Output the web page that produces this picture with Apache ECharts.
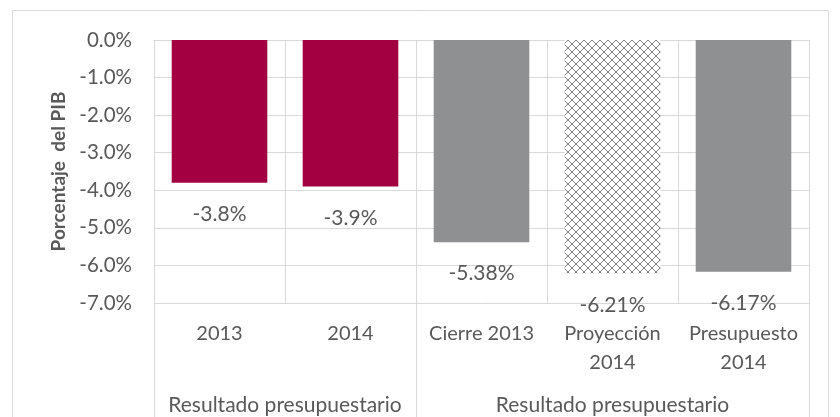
<!DOCTYPE html>
<html>
<head>
<meta charset="utf-8">
<script src="https://cdn.jsdelivr.net/npm/echarts@6/dist/echarts.min.js"></script>
<style>
html,body{margin:0;padding:0;background:#fff;}
#main{width:840px;height:417px;}
</style>
</head>
<body>
<div id="main"></div>
<script>
const categories = ['2013', '2014', 'Cierre 2013', 'Proyección\n2014', 'Presupuesto\n2014'];
const values = [-3.8, -3.9, -5.38, -6.21, -6.17];
const valueLabels = ['-3.8%', '-3.9%', '-5.38%', '-6.21%', '-6.17%'];
const groupNames = ['Resultado presupuestario', 'Resultado presupuestario'];
const groupCenters = [1, 3.5];
const groupBounds = [0, 2, 5];
const yTicks = [0, -1, -2, -3, -4, -5, -6, -7];

function hatch() {
  const c = document.createElement('canvas');
  c.width = 8; c.height = 8;
  const g = c.getContext('2d');
  g.fillStyle = '#ffffff';
  g.fillRect(0, 0, 8, 8);
  g.strokeStyle = '#707070';
  g.lineWidth = 0.9;
  g.beginPath();
  g.moveTo(-1, -1); g.lineTo(9, 9);
  g.moveTo(9, -1); g.lineTo(-1, 9);
  g.stroke();
  return c;
}
const hatchImg = hatch();

const colors = ['#A30041', '#A30041', '#8E9091', {image: hatchImg, repeat: 'repeat'}, '#8E9091'];
const FONT = 'Lato';
const TXT = '#595959';
const GRID = '#d9d9d9';

const chart = echarts.init(document.getElementById('main'));
chart.setOption({
  animation: false,
  graphic: [{
    type: 'rect',
    shape: {x: 12.5, y: 10.5, width: 816, height: 420},
    style: {fill: 'none', stroke: GRID, lineWidth: 1},
    silent: true, z: -1
  }],
  grid: {left: 154, top: 40, right: 31, bottom: 114, containLabel: false},
  xAxis: [{
    type: 'category',
    data: categories,
    position: 'bottom',
    axisLine: {show: true, lineStyle: {color: GRID, width: 1}},
    axisTick: {show: false},
    splitLine: {show: true, lineStyle: {color: GRID, width: 1}},
    axisLabel: {color: TXT, fontFamily: FONT, fontSize: 20, margin: 16, lineHeight: 29, interval: 0}
  }, {
    type: 'value',
    min: 0, max: 5,
    position: 'bottom',
    axisLine: {show: false},
    splitLine: {show: false},
    axisTick: {show: true, customValues: groupBounds, length: 120, lineStyle: {color: GRID, width: 1}},
    axisLabel: {
      show: true,
      customValues: groupCenters,
      color: TXT, fontFamily: FONT, fontSize: 21, margin: 92,
      formatter: function (v) {
        const i = groupCenters.indexOf(v);
        return i >= 0 ? groupNames[i] : '';
      }
    }
  }],
  yAxis: {
    type: 'value',
    min: -7, max: 0, interval: 1,
    name: 'Porcentaje  del PIB',
    nameLocation: 'middle',
    nameGap: 86,
    nameTextStyle: {color: TXT, fontFamily: FONT, fontSize: 19, fontWeight: 'bold'},
    axisLine: {show: false},
    axisTick: {show: false},
    splitLine: {show: true, lineStyle: {color: GRID, width: 1}},
    axisLabel: {
      color: TXT, fontFamily: FONT, fontSize: 20.5, margin: 22,
      formatter: function (v) { return v.toFixed(1) + '%'; }
    }
  },
  series: [{
    type: 'bar',
    xAxisIndex: 0,
    barWidth: '73%',
    data: values.map(function (v, i) {
      return {value: v, itemStyle: {color: colors[i]}};
    }),
    label: {
      show: true,
      position: 'bottom',
      distance: 21,
      color: TXT, fontFamily: FONT, fontSize: 21,
      formatter: function (p) { return valueLabels[p.dataIndex]; }
    }
  }]
});
</script>
</body>
</html>
